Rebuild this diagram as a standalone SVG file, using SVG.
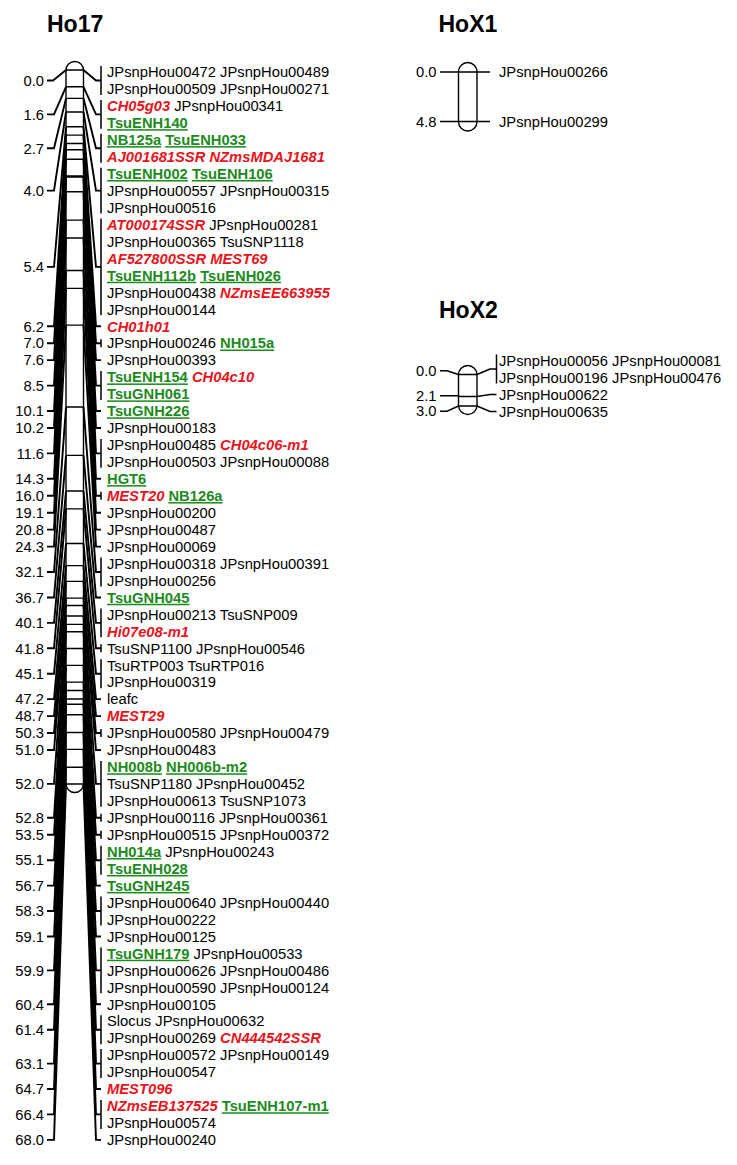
<svg xmlns="http://www.w3.org/2000/svg" width="737" height="1165" viewBox="0 0 737 1165">
<style>
text{font-family:"Liberation Sans",Arial,sans-serif;font-size:15.2px;fill:#000}
.pos{text-anchor:end}
.title{font-size:23px;font-weight:bold}
.r{fill:#e8141b;font-weight:bold;font-style:italic}
.g{fill:#1d8a1d;font-weight:bold;text-decoration:underline}
.chr{fill:#fff;stroke:#000;stroke-width:1.4}
.tk{fill:none;stroke:#000;stroke-width:1.4}
.ln{fill:none;stroke:#000;stroke-width:1.9}
.br{fill:none;stroke:#000;stroke-width:1.5}
</style>
<rect width="737" height="1165" fill="#fff"/>
<g id="Ho17">
<text class="title" x="47" y="32">Ho17</text>
<rect class="chr" x="66" y="61.5" width="17.5" height="731" rx="8.75"/>
<path class="tk" d="M66 70H83.5M66 86.8H83.5M66 98.35H83.5M66 112H83.5M66 126.7H83.5M66 135.1H83.5M66 143.5H83.5M66 149.8H83.5M66 159.25H83.5M66 176.05H83.5M66 177.1H83.5M66 191.8H83.5M66 220.15H83.5M66 238H83.5M66 270.55H83.5M66 288.4H83.5M66 325.15H83.5M66 407.05H83.5M66 455.35H83.5M66 491.05H83.5M66 508.9H83.5M66 543.55H83.5M66 565.6H83.5M66 581.35H83.5M66 598.15H83.5M66 605.5H83.5M66 616H83.5M66 624.4H83.5M66 631.75H83.5M66 648.55H83.5M66 665.35H83.5M66 682.15H83.5M66 690.55H83.5M66 698.95H83.5M66 704.2H83.5M66 714.7H83.5M66 732.55H83.5M66 749.35H83.5M66 767.2H83.5M66 784H83.5"/>
<g transform="translate(44 0) scale(0.97 1)">
<text class="pos" x="0" y="85.8">0.0</text>
<text class="pos" x="0" y="119.7">1.6</text>
<text class="pos" x="0" y="153.6">2.7</text>
<text class="pos" x="0" y="195.95">4.0</text>
<text class="pos" x="0" y="272.2">5.4</text>
<text class="pos" x="0" y="331.55">6.2</text>
<text class="pos" x="0" y="348.5">7.0</text>
<text class="pos" x="0" y="365.45">7.6</text>
<text class="pos" x="0" y="390.9">8.5</text>
<text class="pos" x="0" y="416.3">10.1</text>
<text class="pos" x="0" y="433.25">10.2</text>
<text class="pos" x="0" y="458.7">11.6</text>
<text class="pos" x="0" y="484.1">14.3</text>
<text class="pos" x="0" y="501.05">16.0</text>
<text class="pos" x="0" y="518">19.1</text>
<text class="pos" x="0" y="534.95">20.8</text>
<text class="pos" x="0" y="551.9">24.3</text>
<text class="pos" x="0" y="577.3">32.1</text>
<text class="pos" x="0" y="602.75">36.7</text>
<text class="pos" x="0" y="628.2">40.1</text>
<text class="pos" x="0" y="653.6">41.8</text>
<text class="pos" x="0" y="679">45.1</text>
<text class="pos" x="0" y="704.45">47.2</text>
<text class="pos" x="0" y="721.4">48.7</text>
<text class="pos" x="0" y="738.35">50.3</text>
<text class="pos" x="0" y="755.3">51.0</text>
<text class="pos" x="0" y="789.2">52.0</text>
<text class="pos" x="0" y="823.1">52.8</text>
<text class="pos" x="0" y="840.05">53.5</text>
<text class="pos" x="0" y="865.5">55.1</text>
<text class="pos" x="0" y="890.9">56.7</text>
<text class="pos" x="0" y="916.3">58.3</text>
<text class="pos" x="0" y="941.75">59.1</text>
<text class="pos" x="0" y="975.65">59.9</text>
<text class="pos" x="0" y="1009.55">60.4</text>
<text class="pos" x="0" y="1035">61.4</text>
<text class="pos" x="0" y="1068.9">63.1</text>
<text class="pos" x="0" y="1094.3">64.7</text>
<text class="pos" x="0" y="1119.7">66.4</text>
<text class="pos" x="0" y="1145.15">68.0</text>
</g>
<g transform="translate(107 0) scale(0.97 1)">
<text x="0" y="77.3">JPsnpHou00472 JPsnpHou00489</text>
<text x="0" y="94.25">JPsnpHou00509 JPsnpHou00271</text>
<text x="0" y="111.2"><tspan class="r">CH05g03</tspan> JPsnpHou00341</text>
<text x="0" y="128.15"><tspan class="g">TsuENH140</tspan></text>
<text x="0" y="145.1"><tspan class="g">NB125a</tspan> <tspan class="g">TsuENH033</tspan></text>
<text x="0" y="162.05"><tspan class="r">AJ001681SSR NZmsMDAJ1681</tspan></text>
<text x="0" y="179"><tspan class="g">TsuENH002</tspan> <tspan class="g">TsuENH106</tspan></text>
<text x="0" y="195.95">JPsnpHou00557 JPsnpHou00315</text>
<text x="0" y="212.9">JPsnpHou00516</text>
<text x="0" y="229.85"><tspan class="r">AT000174SSR</tspan> JPsnpHou00281</text>
<text x="0" y="246.8">JPsnpHou00365 TsuSNP1118</text>
<text x="0" y="263.75"><tspan class="r">AF527800SSR MEST69</tspan></text>
<text x="0" y="280.7"><tspan class="g">TsuENH112b</tspan> <tspan class="g">TsuENH026</tspan></text>
<text x="0" y="297.65">JPsnpHou00438 <tspan class="r">NZmsEE663955</tspan></text>
<text x="0" y="314.6">JPsnpHou00144</text>
<text x="0" y="331.55"><tspan class="r">CH01h01</tspan></text>
<text x="0" y="348.5">JPsnpHou00246 <tspan class="g">NH015a</tspan></text>
<text x="0" y="365.45">JPsnpHou00393</text>
<text x="0" y="382.4"><tspan class="g">TsuENH154</tspan> <tspan class="r">CH04c10</tspan></text>
<text x="0" y="399.35"><tspan class="g">TsuGNH061</tspan></text>
<text x="0" y="416.3"><tspan class="g">TsuGNH226</tspan></text>
<text x="0" y="433.25">JPsnpHou00183</text>
<text x="0" y="450.2">JPsnpHou00485 <tspan class="r">CH04c06-m1</tspan></text>
<text x="0" y="467.15">JPsnpHou00503 JPsnpHou00088</text>
<text x="0" y="484.1"><tspan class="g">HGT6</tspan></text>
<text x="0" y="501.05"><tspan class="r">MEST20</tspan> <tspan class="g">NB126a</tspan></text>
<text x="0" y="518">JPsnpHou00200</text>
<text x="0" y="534.95">JPsnpHou00487</text>
<text x="0" y="551.9">JPsnpHou00069</text>
<text x="0" y="568.85">JPsnpHou00318 JPsnpHou00391</text>
<text x="0" y="585.8">JPsnpHou00256</text>
<text x="0" y="602.75"><tspan class="g">TsuGNH045</tspan></text>
<text x="0" y="619.7">JPsnpHou00213 TsuSNP009</text>
<text x="0" y="636.65"><tspan class="r">Hi07e08-m1</tspan></text>
<text x="0" y="653.6">TsuSNP1100 JPsnpHou00546</text>
<text x="0" y="670.55">TsuRTP003 TsuRTP016</text>
<text x="0" y="687.5">JPsnpHou00319</text>
<text x="0" y="704.45">leafc</text>
<text x="0" y="721.4"><tspan class="r">MEST29</tspan></text>
<text x="0" y="738.35">JPsnpHou00580 JPsnpHou00479</text>
<text x="0" y="755.3">JPsnpHou00483</text>
<text x="0" y="772.25"><tspan class="g">NH008b</tspan> <tspan class="g">NH006b-m2</tspan></text>
<text x="0" y="789.2">TsuSNP1180 JPsnpHou00452</text>
<text x="0" y="806.15">JPsnpHou00613 TsuSNP1073</text>
<text x="0" y="823.1">JPsnpHou00116 JPsnpHou00361</text>
<text x="0" y="840.05">JPsnpHou00515 JPsnpHou00372</text>
<text x="0" y="857"><tspan class="g">NH014a</tspan> JPsnpHou00243</text>
<text x="0" y="873.95"><tspan class="g">TsuENH028</tspan></text>
<text x="0" y="890.9"><tspan class="g">TsuGNH245</tspan></text>
<text x="0" y="907.85">JPsnpHou00640 JPsnpHou00440</text>
<text x="0" y="924.8">JPsnpHou00222</text>
<text x="0" y="941.75">JPsnpHou00125</text>
<text x="0" y="958.7"><tspan class="g">TsuGNH179</tspan> JPsnpHou00533</text>
<text x="0" y="975.65">JPsnpHou00626 JPsnpHou00486</text>
<text x="0" y="992.6">JPsnpHou00590 JPsnpHou00124</text>
<text x="0" y="1009.55">JPsnpHou00105</text>
<text x="0" y="1026.5">Slocus JPsnpHou00632</text>
<text x="0" y="1043.45">JPsnpHou00269 <tspan class="r">CN444542SSR</tspan></text>
<text x="0" y="1060.4">JPsnpHou00572 JPsnpHou00149</text>
<text x="0" y="1077.35">JPsnpHou00547</text>
<text x="0" y="1094.3"><tspan class="r">MEST096</tspan></text>
<text x="0" y="1111.25"><tspan class="r">NZmsEB137525</tspan> <tspan class="g">TsuENH107-m1</tspan></text>
<text x="0" y="1128.2">JPsnpHou00574</text>
<text x="0" y="1145.15">JPsnpHou00240</text>
</g>
</g>
<g id="HoX1">
<text class="title" x="438.5" y="32">HoX1</text>
<rect class="chr" x="458.5" y="62.5" width="18.5" height="68.5" rx="9.25"/>
<g transform="translate(436.5 0) scale(0.97 1)">
<text class="pos" x="0" y="77.3">0.0</text>
<text class="pos" x="0" y="126.8">4.8</text>
</g>
<g transform="translate(499 0) scale(0.97 1)">
<text x="0" y="77.3">JPsnpHou00266</text>
<text x="0" y="126.8">JPsnpHou00299</text>
</g>
</g>
<g id="HoX2">
<text class="title" x="439" y="318">HoX2</text>
<rect class="chr" x="458.5" y="365.5" width="18.5" height="49" rx="9.25"/>
<path class="tk" d="M458.5 374.5H477M458.5 396.5H477M458.5 406H477"/>
<g transform="translate(436.5 0) scale(0.97 1)">
<text class="pos" x="0" y="376">0.0</text>
<text class="pos" x="0" y="401">2.1</text>
<text class="pos" x="0" y="416.5">3.0</text>
</g>
<g transform="translate(499 0) scale(0.97 1)">
<text x="0" y="365.8">JPsnpHou00056 JPsnpHou00081</text>
<text x="0" y="382.8">JPsnpHou00196 JPsnpHou00476</text>
<text x="0" y="399.8">JPsnpHou00622</text>
<text x="0" y="416.8">JPsnpHou00635</text>
</g>
</g>
<g id="connectors">
<g class="ln">
<path d="M47 80.5H53L66 70M83.5 70L96 80.5H101"/>
<path d="M47 114.4H54L66 86.8M83.5 86.8L96 114.4H101"/>
<path d="M47 148.3H54L66 98.35M83.5 98.35L96 148.3H101"/>
<path d="M47 190.65H54L66 112M83.5 112L96 190.65H101"/>
<path d="M47 266.9H54L66 126.7M83.5 126.7L96 266.9H101"/>
<path d="M47 326.25H54L66 135.1M83.5 135.1L96 326.25H101"/>
<path d="M47 343.2H54L66 143.5M83.5 143.5L96 343.2H101"/>
<path d="M47 360.15H54L66 149.8M83.5 149.8L96 360.15H101"/>
<path d="M47 385.6H54L66 159.25M83.5 159.25L96 385.6H101"/>
<path d="M47 411H54L66 176.05M83.5 176.05L96 411H101"/>
<path d="M47 427.95H54L66 177.1M83.5 177.1L96 427.95H101"/>
<path d="M47 453.4H54L66 191.8M83.5 191.8L96 453.4H101"/>
<path d="M47 478.8H54L66 220.15M83.5 220.15L96 478.8H101"/>
<path d="M47 495.75H54L66 238M83.5 238L96 495.75H101"/>
<path d="M47 512.7H54L66 270.55M83.5 270.55L96 512.7H101"/>
<path d="M47 529.65H54L66 288.4M83.5 288.4L96 529.65H101"/>
<path d="M47 546.6H54L66 325.15M83.5 325.15L96 546.6H101"/>
<path d="M47 572H54L66 407.05M83.5 407.05L96 572H101"/>
<path d="M47 597.45H54L66 455.35M83.5 455.35L96 597.45H101"/>
<path d="M47 622.9H54L66 491.05M83.5 491.05L96 622.9H101"/>
<path d="M47 648.3H54L66 508.9M83.5 508.9L96 648.3H101"/>
<path d="M47 673.7H54L66 543.55M83.5 543.55L96 673.7H101"/>
<path d="M47 699.15H54L66 565.6M83.5 565.6L96 699.15H101"/>
<path d="M47 716.1H54L66 581.35M83.5 581.35L96 716.1H101"/>
<path d="M47 733.05H54L66 598.15M83.5 598.15L96 733.05H101"/>
<path d="M47 750H54L66 605.5M83.5 605.5L96 750H101"/>
<path d="M47 783.9H54L66 616M83.5 616L96 783.9H101"/>
<path d="M47 817.8H54L66 624.4M83.5 624.4L96 817.8H101"/>
<path d="M47 834.75H54L66 631.75M83.5 631.75L96 834.75H101"/>
<path d="M47 860.2H54L66 648.55M83.5 648.55L96 860.2H101"/>
<path d="M47 885.6H54L66 665.35M83.5 665.35L96 885.6H101"/>
<path d="M47 911H54L66 682.15M83.5 682.15L96 911H101"/>
<path d="M47 936.45H54L66 690.55M83.5 690.55L96 936.45H101"/>
<path d="M47 970.35H54L66 698.95M83.5 698.95L96 970.35H101"/>
<path d="M47 1004.25H54L66 704.2M83.5 704.2L96 1004.25H101"/>
<path d="M47 1029.7H54L66 714.7M83.5 714.7L96 1029.7H101"/>
<path d="M47 1063.6H54L66 732.55M83.5 732.55L96 1063.6H101"/>
<path d="M47 1089H54L66 749.35M83.5 749.35L96 1089H101"/>
<path d="M47 1114.4H54L66 767.2M83.5 767.2L96 1114.4H101"/>
<path d="M47 1139.85H54L66 784M83.5 784L96 1139.85H101"/>
</g>
<g class="br">
<path d="M101 66V95M101 99.9V128.85M101 133.8V162.75M101 167.7V213.6M101 218.55V315.3M101 339.2V347.2M101 371.1V400.05M101 438.9V467.85M101 491.75V499.75M101 557.55V586.5M101 608.4V637.35M101 644.3V652.3M101 659.25V688.2M101 729.05V737.05M101 760.95V806.85M101 813.8V821.8M101 830.75V838.75M101 845.7V874.65M101 896.55V925.5M101 947.4V993.3M101 1015.2V1044.15M101 1049.1V1078.05M101 1099.95V1128.9"/>
<path d="M440 72H490M440 121.5H490"/>
<path d="M440 370.7H447L458.5 374.5M477 374.5L490 369H496.5"/>
<path d="M440 395.7H458.5M477 396.5L490 394.5H496.5"/>
<path d="M440 411.2H447L458.5 406M477 406L490 411.5H496.5"/>
<path d="M496.5 354.5V383.5"/>
</g>
</g>
</svg>
